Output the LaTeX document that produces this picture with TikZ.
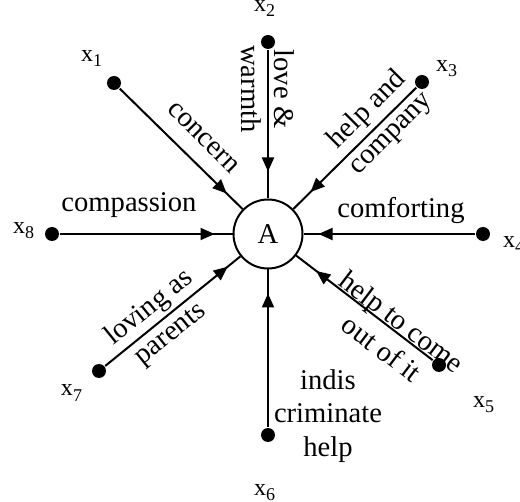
\documentclass[tikz,border=0pt]{standalone}
\usepackage{fontspec}
\setmainfont{Liberation Serif}
\usetikzlibrary{arrows.meta,decorations.markings}
\newcommand{\xlab}[1]{x\raisebox{-2.5pt}{\fontsize{9}{9}\selectfont #1}}

\begin{document}
\begin{tikzpicture}[x=0.5pt,y=-0.5pt,line width=1pt,
  VarPt/.style={circle,fill=black,inner sep=0pt,minimum size=7pt},
  VarLbl/.style={anchor=base west,inner sep=0pt,font=\fontsize{12}{14}\selectfont},
  EdgeLbl/.style={align=center,inner sep=0pt,font=\fontsize{14.3}{16.75}\selectfont},
  ArrowAt/.style={decoration={markings,
    mark=at position -#1 with {\arrow{Triangle[length=7pt,width=6pt]}}},
    postaction={decorate}}]
\useasboundingbox (0,0) rectangle (520,502);

\node[circle,draw,minimum size=34.5pt,inner sep=0pt,
  font=\fontsize{14.3}{16.75}\selectfont] (A) at (268,234) {A};

\node[VarPt] (x1) at (114,83) {};
\node[VarPt] (x2) at (268,42) {};
\node[VarPt] (x3) at (422,82) {};
\node[VarPt] (x4) at (483,234) {};
\node[VarPt] (x5) at (439,365) {};
\node[VarPt] (x6) at (268,435) {};
\node[VarPt] (x7) at (99,371) {};
\node[VarPt] (x8) at (52,234) {};

\draw[ArrowAt=11pt] (x1) -- (A);
\draw[ArrowAt=13.5pt] (x2) -- (A);
\draw[ArrowAt=12pt] (x3) -- (A);
\draw[ArrowAt=7.5pt] (x4) -- (A);
\draw[ArrowAt=12.5pt] (x5) -- (A);
\draw[ArrowAt=12pt] (x6) -- (A);
\draw[ArrowAt=8pt] (x7) -- (A);
\draw[ArrowAt=9pt] (x8) -- (A);

\node[VarLbl] (n1) at (80,62) {\xlab{1}};
\node[VarLbl] (n2) at (253,12) {\xlab{2}};
\node[VarLbl] (n3) at (435,72) {\xlab{3}};
\node[VarLbl] (n4) at (502,248) {\xlab{4}};
\node[VarLbl] (n5) at (472,408) {\xlab{5}};
\node[VarLbl] (n6) at (253,495) {\xlab{6}};
\node[VarLbl] (n7) at (60,396) {\xlab{7}};
\node[VarLbl] (n8) at (12,234) {\xlab{8}};

\node[EdgeLbl,rotate=-45] (concern) at (203,138) {concern};
\node[EdgeLbl,rotate=-90] (warmth) at (268,89) {love \&\\warmth};
\node[EdgeLbl,rotate=45] (company) at (379,122) {help and\\company};
\node[EdgeLbl,anchor=base] (comforting) at (401,218) {comforting};
\node[EdgeLbl,anchor=base] (compassion) at (129,212) {compassion};
\node[EdgeLbl,rotate=38.8] (parents) at (160,321) {loving as\\parents};
\node[EdgeLbl,rotate=-37.2] (comeout) at (392,335) {help to come\\out of it};
\node[EdgeLbl] (indis) at (328,416) {indis\\criminate\\help};

\end{tikzpicture}
\end{document}
